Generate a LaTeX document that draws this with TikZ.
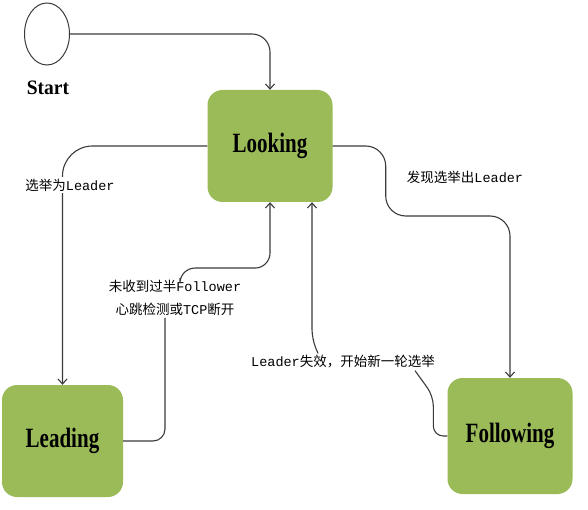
\documentclass[tikz,border=0pt]{standalone}
\usepackage{fontspec}
\setmainfont{Liberation Mono}
\newfontfamily\cjk{Noto Sans CJK SC}
\newfontfamily\titleFont{Liberation Serif}
\usepackage{graphicx}
\usepackage{xcolor}
\usepackage{tikz}
\usetikzlibrary{arrows.meta,shapes.geometric}
\definecolor{stateGreen}{RGB}{155,187,89}
\definecolor{lineGray}{RGB}{58,58,58}
\newcommand{\tallText}[2][1.33]{\scalebox{1}[#1]{#2}}
\tikzset{
stateBox/.style = {rectangle, rounded corners=15pt, fill=stateGreen, minimum width=#1, minimum height=112pt, font=\titleFont\fontsize{21}{24}\selectfont\bfseries},
stateBox/.default = 125pt, % width of a state box
link/.style = {draw=lineGray, line width=1.1pt},
linkArrow/.style = {link, -{Straight Barb[length=5pt,width=9pt]}},
edgeLabel/.style = {font=\fontsize{13.5}{23}\selectfont, align=center, inner sep=2pt},
}

\begin{document}
\begin{tikzpicture}[x=1pt,y=1pt]
    \useasboundingbox (0,0) rectangle (588,509);
    \node[ellipse, draw=lineGray, line width=1pt, minimum width=45pt, minimum height=62pt] (startCircle) at (47,475) {};
    \node[font=\titleFont\fontsize{19.5}{22}\selectfont\bfseries] (startLabel) at (48,421) {\tallText[1.05]{Start}};

    \node[stateBox] (lookBox) at (270,363) {\tallText{Looking}};
    \node[stateBox=121pt] (leadBox) at (62.5,68) {\tallText{Leading}};
    \node[stateBox, minimum height=116pt] (followBox) at (510,73) {\tallText{Following}};

    \node[edgeLabel] (lostLabel) at (175,211) {{\cjk 未收到过半}Follower\\{\cjk 心跳检测或}TCP{\cjk 断开}};
    \node[edgeLabel] (foundLabel) at (465,332) {{\cjk 发现选举出}Leader};
    \node[edgeLabel] (failLabel) at (343,147) {Leader{\cjk 失效，开始新一轮选举}};

    \draw[linkArrow, rounded corners=18pt] (startCircle.east) -| (lookBox.north);
    \draw[linkArrow, rounded corners=30pt] (lookBox.west) -| (leadBox.north);
    \node[edgeLabel, fill=white] (electLabel) at (70,324) {{\cjk 选举为}Leader};

    \draw[link, rounded corners=12pt] (leadBox.east) -| ([xshift=-10pt]lostLabel.south);
    \draw[linkArrow, rounded corners=15pt] ([xshift=5pt]lostLabel.north) |- ++(30,10) -| (lookBox.south);

    \draw[linkArrow, rounded corners=20pt] (lookBox.east) -| ++(53,-70) -| (followBox.north);

    \draw[link, rounded corners=10pt] (followBox.west) -| ++(-14,40) -- ([xshift=-22pt]failLabel.south east);
    \draw[linkArrow, rounded corners=10pt] ([xshift=-25pt]failLabel.north) -- ++(-6,14) -- ([xshift=42pt]lookBox.south);
\end{tikzpicture}
\end{document}
